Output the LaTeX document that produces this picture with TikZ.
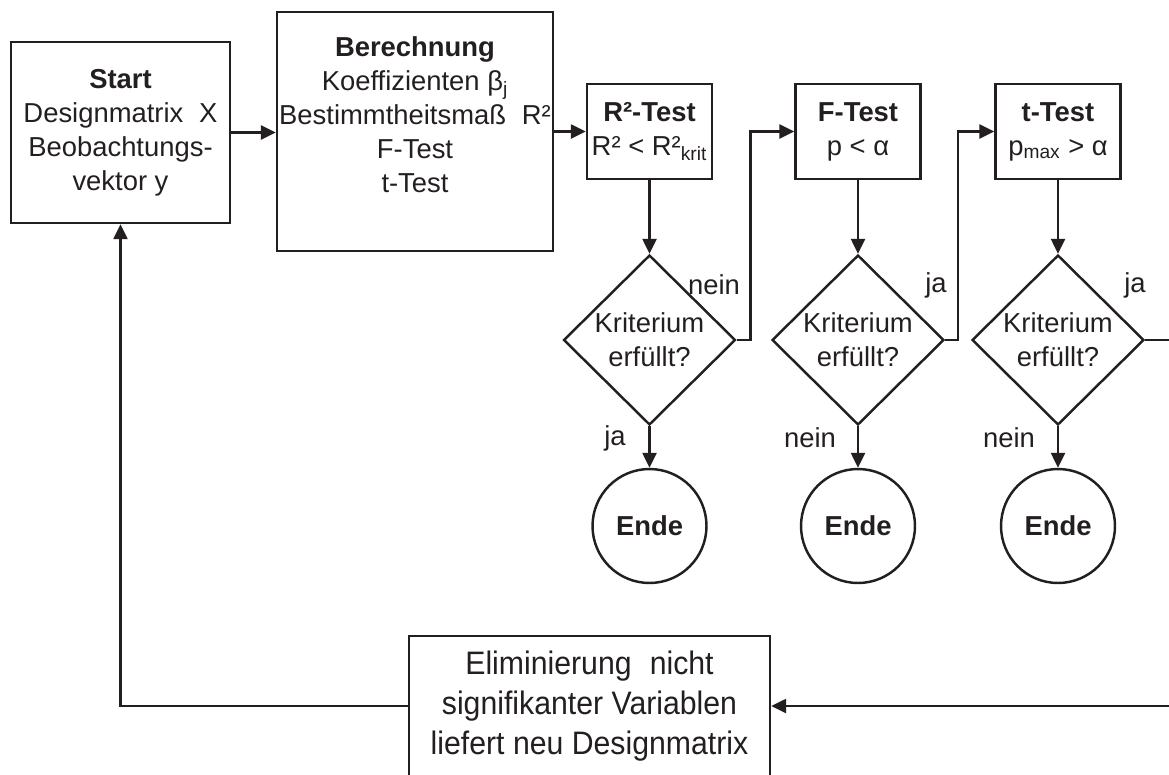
\documentclass[tikz,border=0pt]{standalone}
\usepackage{fontspec}
\setmainfont{Liberation Sans}
\newfontfamily\narrowfont[FakeStretch=0.93]{Liberation Sans}
\usetikzlibrary{shapes.geometric,arrows.meta}
\definecolor{ink}{RGB}{35,31,32}

\tikzset{
  box/.style={draw=ink,line width=1.4pt,align=center,inner sep=0pt},
  testbox/.style={box,minimum width=2.5cm,minimum height=1.9cm},
  crit/.style={diamond,draw=ink,line width=1.4pt,align=center,inner sep=0pt,minimum width=3.44cm,minimum height=3.4cm},
  ende/.style={circle,draw=ink,line width=1.4pt,minimum size=2.28cm,font=\fontsize{15.6}{19.3}\selectfont\bfseries},
  arr/.style={draw=ink,line width=1.4pt,-{Triangle[length=0.3cm,width=0.28cm]}},
}

\begin{document}
\begin{tikzpicture}[x=0.02cm,y=-0.02cm,font=\fontsize{15.6}{19.3}\selectfont,text=ink]
  \clip (0,0) rectangle (1169,774);
  \node[box,minimum width=4.38cm,minimum height=3.62cm] (start) at (120.5,132.5) {\textbf{Start}\\Designmatrix\hspace{.3em} X\\Beobachtungs-\\vektor y};
  \node[box,minimum width=5.52cm,minimum height=4.78cm] (calc) at (415,131.5) {\textbf{Berechnung}\\Koeffizienten β\textsubscript{j}\\Bestimmtheitsmaß\hspace{.3em} R²\\F-Test\\t-Test\\~};
  \node[testbox] (r2test) at (649.5,131.5) {\textbf{R²-Test}\\R² < R²\textsubscript{krit}};
  \node[testbox] (ftest) at (858,131.5) {\textbf{F-Test}\\p < α};
  \node[testbox] (ttest) at (1058,131.5) {\textbf{t-Test}\\p\textsubscript{max} > α};
  \node[crit] (r2crit) at (649.5,340) {Kriterium\\erfüllt?};
  \node[crit] (fcrit) at (858,340) {Kriterium\\erfüllt?};
  \node[crit] (tcrit) at (1058,340) {Kriterium\\erfüllt?};
  \node[ende] (r2end) at (649.5,526) {Ende};
  \node[ende] (fend) at (858,526) {Ende};
  \node[ende] (tend) at (1058,526) {Ende};
  \node[box,minimum width=7.22cm,minimum height=2.8cm,font=\narrowfont\fontsize{18.5}{22.8}\selectfont] (elim) at (589.5,706) {Eliminierung\hspace{.3em} nicht\\signifikanter Variablen\\liefert neu Designmatrix};

  % labels at the branches
  \node (r2no) at (714,285) {nein};
  \node (fyes) at (936,285) {ja};
  \node (tyes) at (1135,285) {ja};
  \node (r2yes) at (615,438) {ja};
  \node (fno) at (810,438) {nein};
  \node (tno) at (1009,438) {nein};

  \draw[arr] (start.east) -- (calc.west |- start.east);
  \draw[arr] (calc.east) -- (r2test.west);
  \draw[arr] (r2test.south) -- (r2crit.north);
  \draw[arr] (ftest.south) -- (fcrit.north);
  \draw[arr] (ttest.south) -- (tcrit.north);
  \draw[arr] (r2crit.south) -- (r2end.north);
  \draw[arr] (fcrit.south) -- (fend.north);
  \draw[arr] (tcrit.south) -- (tend.north);
  \draw[arr] (r2crit.east) -- ++(14,0) |- (ftest.west);
  \draw[arr] (fcrit.east) -- ++(13,0) |- (ttest.west);
  \draw[arr] (tcrit.east) -- ++(40,0) |- (elim.east);
  \draw[arr] (elim.west) -| (start.south);
\end{tikzpicture}
\end{document}
